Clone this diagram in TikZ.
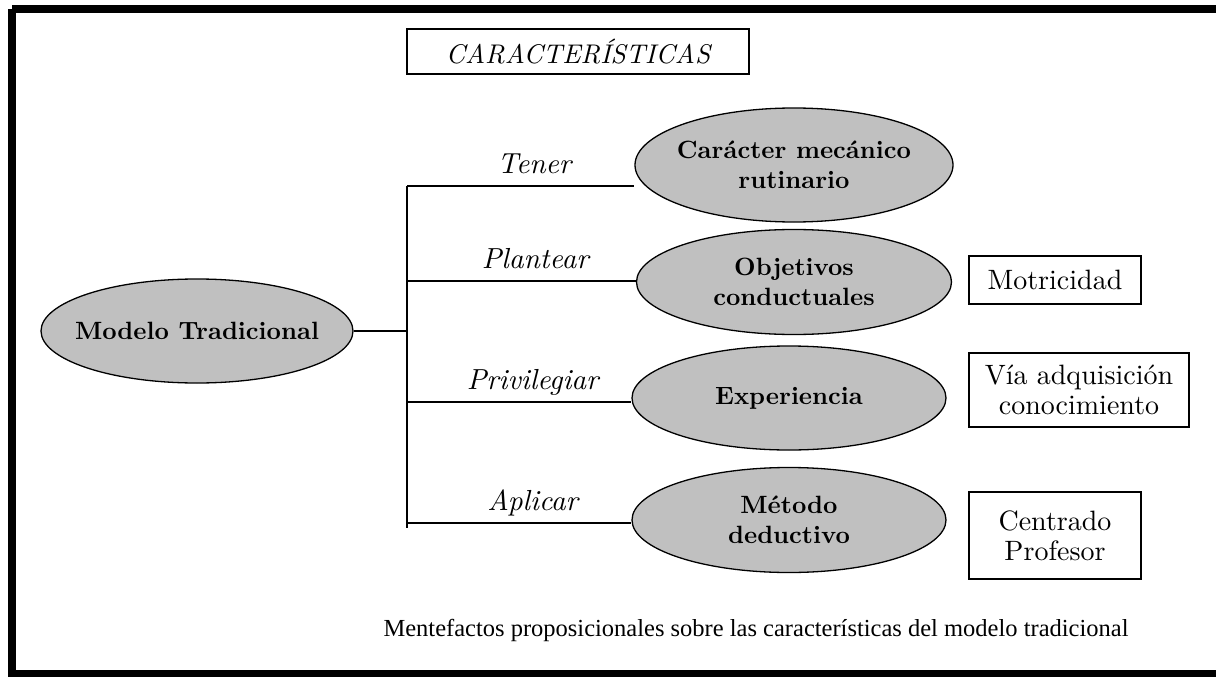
\documentclass[tikz,border=0pt]{standalone}
\usepackage{fontspec}
\setmainfont{lmroman10}[Extension=.otf, UprightFont=*-regular, BoldFont=*-bold, ItalicFont=*-italic, BoldItalicFont=*-bolditalic]
\newfontfamily\capfont{Liberation Serif}
\usetikzlibrary{shapes.geometric}
\definecolor{ellgray}{HTML}{C0C0C0}
\tikzset{
  oval/.style={ellipse, draw=black, line width=1.3pt, fill=ellgray, inner sep=0pt},
  ovaltext/.style={align=center, inner sep=0pt, font=\fontsize{25}{30}\selectfont\bfseries},
  sidebox/.style={draw=black, line width=1.2pt, inner sep=0pt, align=center,
    font=\fontsize{28}{30}\selectfont},
  verb/.style={font=\fontsize{29}{30}\selectfont\itshape, anchor=base, pos=0.56, yshift=13pt},
  conn/.style={line width=1.6pt}
}
\begin{document}
\begin{tikzpicture}[x=1pt,y=-1pt]
\useasboundingbox (0,0) rectangle (1216,677);
\fill[white] (0,0) rectangle (1216,677);
% frame
\draw[line width=8pt] (12,9) -- (1240,9) (12,9) -- (12,674) -- (1240,674);

% title box
\node[draw=black, line width=1.2pt, minimum width=342pt, minimum height=45pt, inner sep=0pt,
  font=\fontsize{27}{30}\selectfont\itshape] (title) at (578,51.5) {CARACTERÍSTICAS};

% main ellipse
\node[oval, minimum width=312pt, minimum height=104pt,
  label={[ovaltext]center:Modelo Tradicional}] (modelo) at (197,331) {};

% right ellipses
\node[oval, minimum width=318pt, minimum height=114pt,
  label={[ovaltext]center:Carácter mecánico\\rutinario}] (e1) at (794,165) {};
\node[oval, minimum width=315pt, minimum height=105pt,
  label={[ovaltext]center:Objetivos\\conductuales}] (e2) at (794,282) {};
\node[oval, minimum width=314pt, minimum height=104pt,
  label={[ovaltext]center:Experiencia}] (e3) at (789,398) {};
\node[oval, minimum width=314pt, minimum height=105pt,
  label={[ovaltext]center:Método\\deductivo}] (e4) at (789,520) {};

% side boxes
\node[sidebox, minimum width=172pt, minimum height=48pt] (b1) at (1055,280) {Motricidad};
\node[sidebox, minimum width=220pt, minimum height=74pt] (b2) at (1079,390) {Vía adquisición\\conocimiento};
\node[sidebox, minimum width=172pt, minimum height=87pt] (b3) at (1055,535.5) {Centrado\\Profesor};

% trunk coordinates
\coordinate (t1) at (407,186);
\coordinate (t2) at (407,281);
\coordinate (t3) at (407,402);
\coordinate (t4) at (407,523);
\coordinate (tb) at (407,528);

\draw[conn] (modelo.east) -- (modelo.east -| t1);
\draw[conn] (t1) -- (tb);
\draw[conn] (t1) -- node[verb] {Tener} (t1 -| e1.west);
\draw[conn] (t2) -- node[verb] {Plantear} (t2 -| e2.west);
\draw[conn] (t3) -- node[verb] {Privilegiar} (t3 -| e3.west);
\draw[conn] (t4) -- node[verb] {Aplicar} (t4 -| e4.west);

% caption
\node[anchor=base, font=\capfont\fontsize{24.5}{28}\selectfont] (cap) at (756,636)
  {Mentefactos proposicionales sobre las características del modelo tradicional};
\end{tikzpicture}
\end{document}
